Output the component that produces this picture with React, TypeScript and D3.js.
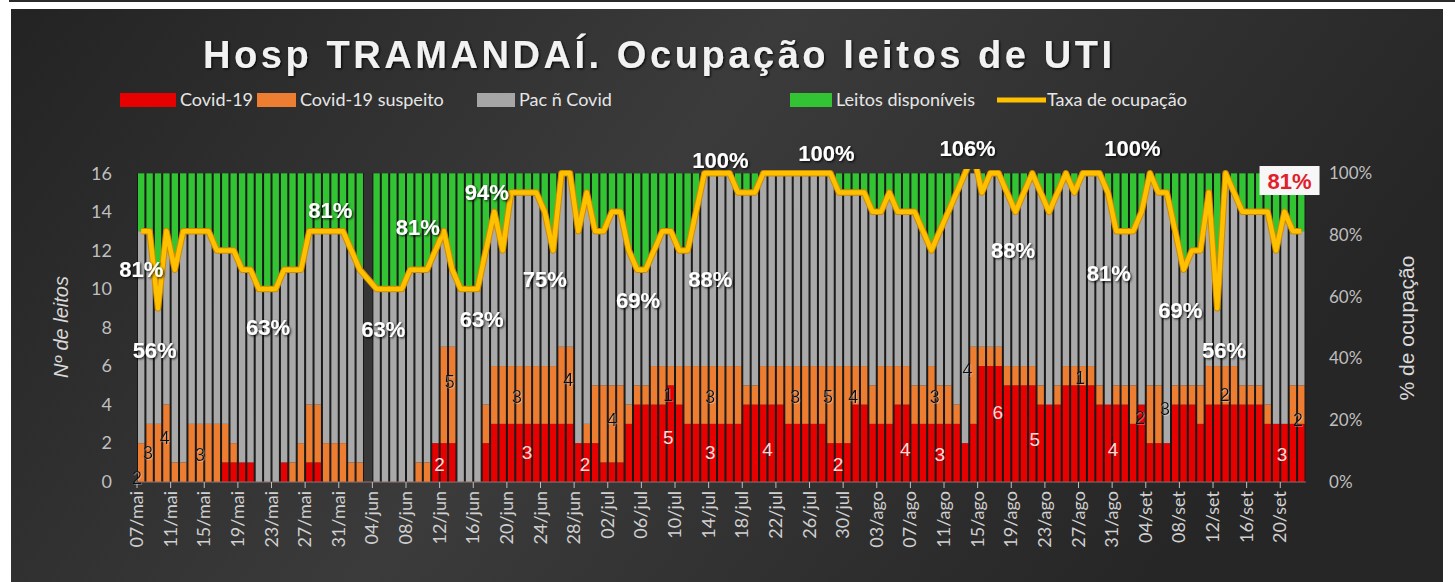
import React from 'react';
import * as d3 from 'd3';

// ---- DATA (one value per day, 07/mai .. 22/set; null = no record) ----
const covid: (number | null)[] = [
  0,0,0,0,0,0,0,0,0,0, 1,1,1,1,0,0,0,1,0,0, 1,1,0,0,0,0,0,null,0,0,
  0,0,0,0,0,2,2,2,0,0, 0,2,3,3,3,3,3,3,3,3, 3,3,2,2,2,1,1,1,3,4,
  4,4,4,5,4,3,3,3,3,3, 3,3,4,4,4,4,4,3,3,3, 3,3,2,2,2,4,4,3,3,3,
  4,4,3,3,3,3,3,3,2,3, 6,6,6,5,5,5,5,4,4,4, 5,5,5,5,4,4,4,4,3,4,
  2,2,2,4,4,4,3,4,4,4, 4,4,4,4,3,3,3,3,3
];
const suspeito: (number | null)[] = [
  2,3,3,4,1,1,3,3,3,3, 2,1,0,0,0,0,0,0,1,2, 3,3,2,2,2,1,1,null,0,0,
  0,0,0,1,1,0,5,5,0,0, 0,2,3,3,3,3,3,3,3,3, 4,4,0,1,3,4,4,4,1,1,
  1,2,2,1,2,3,3,3,3,3, 3,3,1,1,2,2,2,3,3,3, 3,3,4,4,4,2,2,2,3,3,
  2,2,2,2,3,2,2,1,0,4, 1,1,1,1,1,1,1,1,0,1, 1,1,1,1,1,0,1,1,2,0,
  3,3,0,1,1,1,2,2,2,2, 2,1,1,1,1,0,0,2,2
];
const naoCovid: (number | null)[] = [
  11,10,6,9,10,12,10,10,10,9, 9,10,10,10,10,10,10,10,10,9, 9,9,11,11,11,11,10,null,10,10,
  10,10,11,10,10,10,6,4,10,10, 10,8,8,6,9,9,9,9,8,6, 9,9,11,12,8,8,9,9,8,6,
  6,6,7,7,6,6,8,10,10,10, 10,9,10,10,10,10,10,10,10,10, 10,10,10,9,9,9,9,9,8,9,
  8,8,9,8,6,8,9,11,14,10, 8,9,9,9,8,9,10,10,10,10, 10,9,10,10,11,11,8,8,8,10,
  11,10,13,8,6,7,7,9,3,10, 9,9,9,9,10,9,11,8,8
];
const disponiveis: (number | null)[] = [
  3,3,7,3,5,3,3,3,3,4, 4,4,5,5,6,6,6,5,5,5, 3,3,3,3,3,4,5,null,6,6,
  6,6,5,5,5,4,3,5,6,6, 6,4,2,4,1,1,1,1,2,4, 0,0,3,1,3,3,2,2,4,5,
  5,4,3,3,4,4,2,0,0,0, 0,1,1,1,0,0,0,0,0,0, 0,0,0,1,1,1,1,2,2,1,
  2,2,2,3,4,3,2,1,0,0, 1,0,0,1,2,1,0,1,2,1, 0,1,0,0,0,1,3,3,3,2,
  0,1,1,3,5,4,4,1,7,0, 1,2,2,2,2,4,2,3,3
];
const taxa: (number | null)[] = [
  81.25,81.25,56.25,81.25,68.75,81.25,81.25,81.25,81.25,75, 75,75,68.75,68.75,62.5,62.5,62.5,68.75,68.75,68.75,
  81.25,81.25,81.25,81.25,81.25,75,68.75,null,62.5,62.5, 62.5,62.5,68.75,68.75,68.75,75,81.25,68.75,62.5,62.5,
  62.5,75,87.5,75,93.75,93.75,93.75,93.75,87.5,75, 100,100,81.25,93.75,81.25,81.25,87.5,87.5,75,68.75,
  68.75,75,81.25,81.25,75,75,87.5,100,100,100, 100,93.75,93.75,93.75,100,100,100,100,100,100,
  100,100,100,93.75,93.75,93.75,93.75,87.5,87.5,93.75, 87.5,87.5,87.5,81.25,75,81.25,87.5,93.75,100,106.25,
  93.75,100,100,93.75,87.5,93.75,100,93.75,87.5,93.75, 100,93.75,100,100,100,93.75,81.25,81.25,81.25,87.5,
  100,93.75,93.75,81.25,68.75,75,75,93.75,56.25,100, 93.75,87.5,87.5,87.5,87.5,75,87.5,81.25,81.25
];
const tickLabels = [
  '07/mai','11/mai','15/mai','19/mai','23/mai','27/mai','31/mai','04/jun','08/jun','12/jun',
  '16/jun','20/jun','24/jun','28/jun','02/jul','06/jul','10/jul','14/jul','18/jul','22/jul',
  '26/jul','30/jul','03/ago','07/ago','11/ago','15/ago','19/ago','23/ago','27/ago','31/ago',
  '04/set','08/set','12/set','16/set','20/set'
];
const leftTicks = [0, 2, 4, 6, 8, 10, 12, 14, 16];
const rightTicks = [0, 20, 40, 60, 80, 100];

// percentage labels (day index, height in beds, text)
const pctLabels = [
  { i: 0, v: 11.0, t: '81%' }, { i: 1.6, v: 6.8, t: '56%' }, { i: 15.1, v: 8.0, t: '63%' },
  { i: 22.5, v: 14.1, t: '81%' }, { i: 28.8, v: 7.9, t: '63%' }, { i: 32.9, v: 13.2, t: '81%' },
  { i: 41.1, v: 15.0, t: '94%' }, { i: 40.5, v: 8.4, t: '63%' }, { i: 48.0, v: 10.5, t: '75%' },
  { i: 59.1, v: 9.4, t: '69%' }, { i: 67.7, v: 10.5, t: '88%' }, { i: 68.9, v: 16.7, t: '100%' },
  { i: 81.5, v: 17.05, t: '100%' }, { i: 98.3, v: 17.3, t: '106%' }, { i: 103.7, v: 12.0, t: '88%' },
  { i: 115.1, v: 10.8, t: '81%' }, { i: 117.9, v: 17.3, t: '100%' }, { i: 123.6, v: 8.9, t: '69%' },
  { i: 128.8, v: 6.8, t: '56%' }
];
const lastLabel = { i: 136.6, v: 15.6, t: '81%' };
// suspected-case counts (black) and covid counts (white)
const suspLabels = [
  { i: -0.5, v: 0.2, t: '2' }, { i: 0.8, v: 1.5, t: '3' }, { i: 2.8, v: 2.3, t: '4' }, { i: 7.0, v: 1.4, t: '3' },
  { i: 36.7, v: 5.2, t: '5' }, { i: 44.7, v: 4.4, t: '3' }, { i: 50.8, v: 5.3, t: '4' }, { i: 56, v: 3.2, t: '4' },
  { i: 62.7, v: 4.5, t: '1' }, { i: 67.7, v: 4.4, t: '3' }, { i: 77.8, v: 4.4, t: '3' }, { i: 81.7, v: 4.4, t: '5' },
  { i: 84.7, v: 4.4, t: '4' }, { i: 94.4, v: 4.4, t: '3' }, { i: 98.3, v: 5.8, t: '4' }, { i: 111.7, v: 5.4, t: '1' },
  { i: 118.8, v: 3.3, t: '2' }, { i: 121.8, v: 3.8, t: '3' }, { i: 128.9, v: 4.5, t: '2' }, { i: 137.6, v: 3.2, t: '2' }
];
const covidLabels = [
  { i: 35.5, v: 0.9, t: '2' }, { i: 45.9, v: 1.5, t: '3' }, { i: 52.8, v: 0.9, t: '2' }, { i: 62.7, v: 2.3, t: '5' },
  { i: 67.7, v: 1.5, t: '3' }, { i: 74.5, v: 1.7, t: '4' }, { i: 82.9, v: 0.9, t: '2' }, { i: 90.9, v: 1.7, t: '4' },
  { i: 95.0, v: 1.4, t: '3' }, { i: 101.9, v: 3.6, t: '6' }, { i: 106.3, v: 2.2, t: '5' }, { i: 115.6, v: 1.7, t: '4' },
  { i: 135.7, v: 1.4, t: '3' }
];

const keys = ['covid', 'suspeito', 'naoCovid', 'disponiveis'];
const colors: Record<string, string> = {
  covid: '#e60000', suspeito: '#ed7d31', naoCovid: '#a9a9a9', disponiveis: '#33c433'
};
const legendItems = [
  { t: 'Covid-19', c: '#e60000', x0: 120, x1: 176, tx: 180 },
  { t: 'Covid-19 suspeito', c: '#ed7d31', x0: 257, x1: 296, tx: 300 },
  { t: 'Pac ñ Covid', c: '#a6a6a6', x0: 477, x1: 515, tx: 519 },
  { t: 'Leitos disponíveis', c: '#33c433', x0: 790, x1: 832, tx: 836 },
];

export default function App() {
  const W = 1455, H = 582;
  const N = covid.length;
  const x = d3.scaleBand<number>().domain(d3.range(N)).range([137, 1305.5]).padding(0);
  const bw = x.bandwidth();
  const y = d3.scaleLinear().domain([0, 16]).range([481.7, 173.3]);
  const yR = d3.scaleLinear().domain([0, 100]).range([481.7, 173.3]);
  const lx = (i: number) => 137 + bw / 2 + i * bw;

  const rows = d3.range(N).map(i => ({
    i,
    covid: covid[i] ?? 0, suspeito: suspeito[i] ?? 0,
    naoCovid: naoCovid[i] ?? 0, disponiveis: disponiveis[i] ?? 0,
    has: covid[i] != null,
  }));
  const series = d3.stack<any>().keys(keys)(rows);

  const linePts = d3.range(N).filter(i => taxa[i] != null);
  const line = d3.line<number>().x(i => (x(i) ?? 0) + bw / 2).y(i => yR(taxa[i] as number));

  const font = "'Liberation Sans', Arial, sans-serif";
  const cond = "Lato, 'Liberation Sans Narrow', sans-serif";

  return (
    <svg width={W} height={H} style={{ position: 'absolute', left: 0, top: 0 }}>
      <defs>
        <linearGradient id="bg" x1="0" y1="0" x2="1" y2="0.3">
          <stop offset="0" stopColor="#232323" />
          <stop offset="0.5" stopColor="#3b3b3b" />
          <stop offset="1" stopColor="#262626" />
        </linearGradient>
        <filter id="sh" x="-20%" y="-20%" width="140%" height="140%">
          <feDropShadow dx="1.2" dy="1.2" stdDeviation="0.9" floodColor="#000" floodOpacity="0.85" />
        </filter>
        <filter id="shl" x="-20%" y="-20%" width="140%" height="140%">
          <feDropShadow dx="0.8" dy="0.8" stdDeviation="0.6" floodColor="#fff" floodOpacity="0.35" />
        </filter>
        <clipPath id="clip">
          <rect x={130} y={169} width={1190} height={320} />
        </clipPath>
      </defs>
      <rect x={0} y={0} width={W} height={H} fill="#ffffff" />
      <rect x={9} y={0} width={W - 9} height={2} fill="#2a2a2a" />
      <rect x={11} y={9} width={1432} height={H - 9} fill="url(#bg)" />

      {/* title */}
      <text x={203} y={68} fill="#f2f2f2" fontFamily={font} fontWeight="bold" fontSize={38}
        textLength={909} lengthAdjust="spacing" filter="url(#sh)">Hosp TRAMANDAÍ. Ocupação leitos de UTI</text>

      {/* legend */}
      {legendItems.map(d => (
        <g key={d.t}>
          <rect x={d.x0} y={93} width={d.x1 - d.x0} height={14} fill={d.c} />
          <text x={d.tx} y={106} fill="#e6e6e6" fontFamily={cond} fontSize={18}>{d.t}</text>
        </g>
      ))}
      <line x1={997} x2={1046} y1={100} y2={100} stroke="#ffc000" strokeWidth={5} />
      <text x={1047} y={106} fill="#e6e6e6" fontFamily={cond} fontSize={18}>Taxa de ocupação</text>

      {/* bar backing (separators) */}
      {rows.filter(r => r.has).map(r => (
        <rect key={'b' + r.i} x={x(r.i)} y={y(16)} width={bw} height={y(0) - y(16)} fill="#181818" />
      ))}
      {/* stacked bars */}
      {series.map(s => (
        <g key={s.key} fill={colors[s.key]}>
          {s.filter(d => d.data.has && d[1] > d[0]).map(d => (
            <rect key={d.data.i} x={(x(d.data.i) ?? 0) + 1} width={bw - 2}
              y={y(Math.min(d[1], 16))} height={Math.max(0, y(d[0]) - y(Math.min(d[1], 16)))} />
          ))}
        </g>
      ))}

      {/* x axis */}
      <line x1={137} x2={1306} y1={482} y2={482} stroke="#d9a0a0" strokeOpacity={0.6} strokeWidth={1} />
      {tickLabels.map((t, k) => {
        const tx = x(k * 4) ?? 0;
        return (
          <g key={t}>
            <line x1={tx} x2={tx} y1={482} y2={488} stroke="#bfbfbf" strokeWidth={1} />
            <text transform={`translate(${tx + 6},${491}) rotate(-90)`} textAnchor="end"
              fill="#d0d0d0" fontFamily={cond} fontSize={18}>{t}</text>
          </g>
        );
      })}

      {/* left axis */}
      {leftTicks.map(v => (
        <text key={v} x={112} y={y(v)} dy="0.35em" textAnchor="end" fill="#bfbfbf" fontFamily={cond} fontSize={18}>{v}</text>
      ))}
      <text transform={`translate(68,${327}) rotate(-90)`} textAnchor="middle" fill="#d9d9d9"
        fontFamily={font} fontStyle="italic" fontSize={20}>Nº de leitos</text>

      {/* right axis */}
      {rightTicks.map(v => (
        <text key={v} x={1329} y={yR(v)} dy="0.35em" fill="#bfbfbf" fontFamily={cond} fontSize={17}>{v}%</text>
      ))}
      <text transform={`translate(1414,${328}) rotate(-90)`} textAnchor="middle" fill="#d9d9d9"
        fontFamily={font} fontSize={21}>% de ocupação</text>

      {/* occupancy line */}
      <g clipPath="url(#clip)">
        <path d={line(linePts) ?? ''} fill="none" stroke="#d08a00" strokeWidth={6.5} strokeLinejoin="round" />
        <path d={line(linePts) ?? ''} fill="none" stroke="#ffc000" strokeWidth={4.5} strokeLinejoin="round" />
      </g>

      {/* count labels */}
      {suspLabels.map((d, k) => (
        <text key={'s' + k} x={lx(d.i)} y={y(d.v)} dy="0.35em" textAnchor="middle" fill="#111"
          fontFamily={font} fontSize={18} filter="url(#shl)">{d.t}</text>
      ))}
      {covidLabels.map((d, k) => (
        <text key={'c' + k} x={lx(d.i)} y={y(d.v)} dy="0.35em" textAnchor="middle" fill="#ffdada"
          fontFamily={font} fontSize={19}>{d.t}</text>
      ))}

      {/* percentage labels */}
      {pctLabels.map((d, k) => (
        <text key={'p' + k} x={lx(d.i)} y={y(d.v)} dy="0.35em" textAnchor="middle" fill="#ffffff"
          fontFamily={font} fontWeight="bold" fontSize={22} filter="url(#sh)">{d.t}</text>
      ))}
      <rect x={lx(lastLabel.i) - 30} y={y(lastLabel.v) - 15} width={60} height={29} fill="#f7f7f7" />
      <text x={lx(lastLabel.i)} y={y(lastLabel.v)} dy="0.36em" textAnchor="middle" fill="#e0202a"
        fontFamily={font} fontWeight="bold" fontSize={22}>{lastLabel.t}</text>
    </svg>
  );
}
